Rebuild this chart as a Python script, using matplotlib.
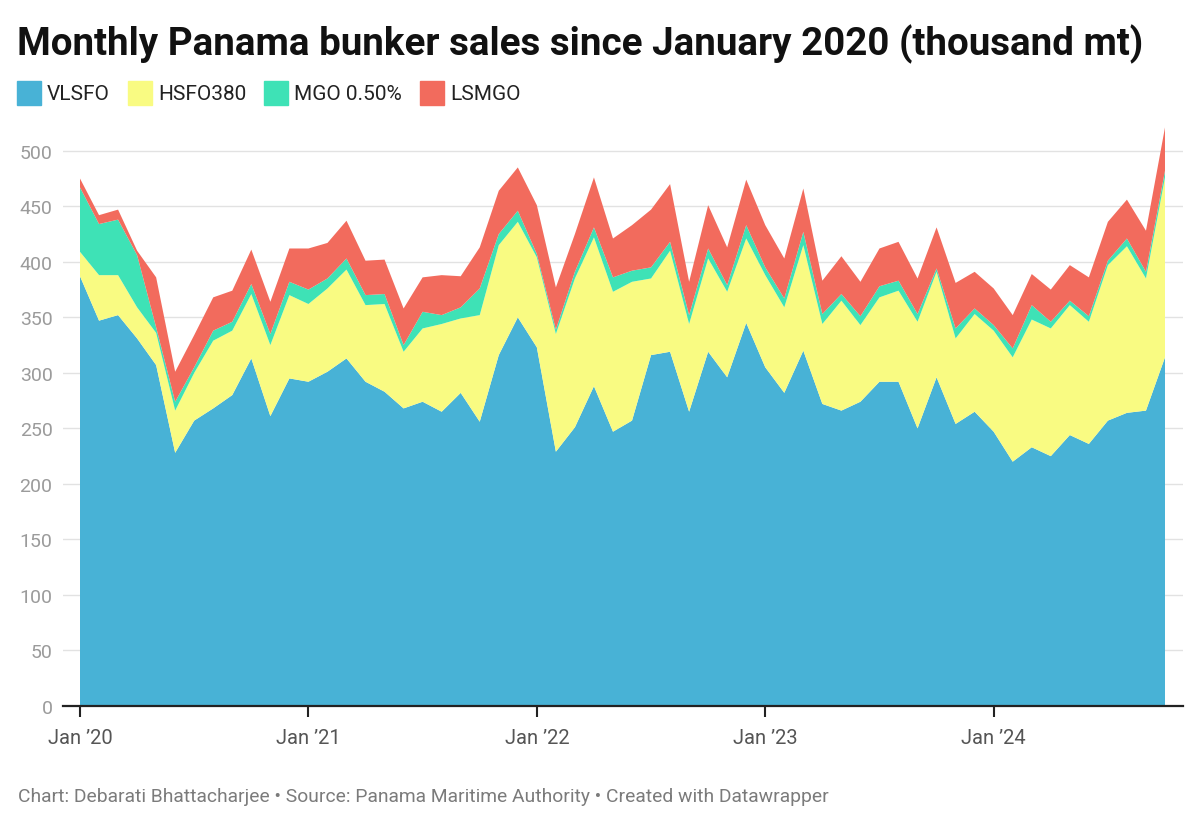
import numpy as np
import matplotlib.pyplot as plt
from matplotlib.patches import Rectangle

plt.rcParams['font.family'] = ['Roboto', 'DejaVu Sans']

# month index 0 = Jan 2020 ... 57 = Oct 2024, values in thousand mt
vlsfo = [387, 347, 352, 331, 307, 228, 257, 268, 280, 313, 261, 295,
         292, 301, 313, 292, 283, 268, 274, 265, 282, 256, 316, 350,
         323, 229, 251, 288, 247, 257, 316, 319, 265, 319, 296, 345,
         305, 282, 320, 272, 266, 274, 292, 292, 250, 296, 254, 265,
         247, 220, 233, 225, 244, 236, 257, 264, 266, 314]
hsfo380 = [22, 41, 36, 28, 29, 38, 43, 61, 58, 58, 64, 75,
           70, 75, 80, 69, 79, 51, 66, 79, 67, 96, 99, 86,
           81, 106, 134, 134, 126, 125, 69, 91, 79, 84, 77, 76,
           83, 77, 95, 72, 99, 69, 76, 82, 96, 95, 77, 88,
           91, 94, 115, 115, 117, 110, 140, 150, 119, 162]
mgo050 = [58, 46, 50, 47, 5, 8, 5, 9, 8, 9, 10, 12,
          13, 9, 10, 9, 9, 6, 15, 8, 10, 24, 10, 10,
          3, 4, 6, 9, 13, 10, 10, 8, 8, 9, 6, 12,
          7, 8, 12, 9, 6, 8, 10, 9, 7, 3, 9, 5,
          5, 8, 13, 6, 4, 5, 4, 7, 6, 6]
lsmgo = [8, 8, 9, 4, 45, 27, 29, 30, 28, 31, 29, 30,
         37, 32, 34, 31, 31, 33, 31, 36, 28, 37, 39, 39,
         44, 38, 34, 45, 35, 41, 52, 52, 30, 39, 34, 41,
         38, 36, 39, 30, 34, 31, 34, 35, 32, 37, 41, 33,
         33, 30, 28, 29, 32, 35, 35, 35, 37, 39]

series_names = ['VLSFO', 'HSFO380', 'MGO 0.50%', 'LSMGO']
colors = ['#48b2d6', '#f9fb82', '#3ee2b6', '#f26b5d']
tick_months = [0, 12, 24, 36, 48]
tick_labels = ['Jan \u201920', 'Jan \u201921', 'Jan \u201922', 'Jan \u201923', 'Jan \u201924']
yticks = list(range(0, 501, 50))

months = np.arange(len(vlsfo))

fig = plt.figure(figsize=(12, 8.28), dpi=100)
# axes spans pixels x 63..1183, y 124..707
ax = fig.add_axes([63/1200, 1 - 707/828, (1183 - 63)/1200, (707 - 124)/828])
px_per_month = (1165 - 80) / 57
ax.set_xlim(-(80 - 63)/px_per_month, 57 + (1183 - 1165)/px_per_month)
ax.set_ylim(0, 525)

ax.stackplot(months, vlsfo, hsfo380, mgo050, lsmgo, colors=colors,
             linewidth=0, zorder=2)

ax.set_yticks(yticks)
ax.set_yticklabels([str(v) for v in yticks])
ax.grid(axis='y', color='#e2e2e2', linewidth=1, zorder=0)
ax.set_axisbelow(True)
ax.tick_params(axis='y', length=0, pad=7.5, labelsize=14, labelcolor='#9b9b9b')
ax.set_xticks(tick_months)
ax.set_xticklabels(tick_labels)
ax.tick_params(axis='x', length=8, width=1.5, color='#222222', pad=8,
               labelsize=14.5, labelcolor='#555555')
for s in ['top', 'right', 'left']:
    ax.spines[s].set_visible(False)
ax.spines['bottom'].set_color('#222222')
ax.spines['bottom'].set_linewidth(1.6)
ax.spines['bottom'].set_zorder(3)

fig.text(17/1200, 1 - 55/828, 'Monthly Panama bunker sales since January 2020 (thousand mt)',
         fontsize=27.7, fontweight='bold', color='#111111', ha='left', va='baseline')

# legend
leg_x = [17, 128, 264, 420]
for x0, name, c in zip(leg_x, series_names, colors):
    fig.patches.append(Rectangle((x0/1200, 1 - 106/828), 24/1200, 24/828,
                                 transform=fig.transFigure, color=c))
    fig.text((x0 + 30)/1200, 1 - 94/828, name, fontsize=15, color='#222222',
             ha='left', va='center')

fig.text(18/1200, 1 - 797/828,
         'Chart: Debarati Bhattacharjee \u2022 Source: Panama Maritime Authority \u2022 Created with Datawrapper',
         fontsize=13.9, color='#7b7b7b', ha='left', va='center')

fig.savefig('out.png', dpi=100)
